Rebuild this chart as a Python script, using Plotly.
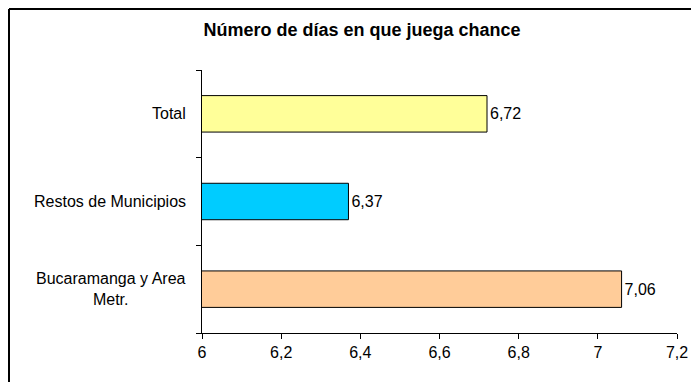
import plotly.graph_objects as go

# data
categories = ["Bucaramanga y Area<br>Metr.", "Restos de Municipios", "Total"]
values = [7.06, 6.37, 6.72]
colors = ["#FFCC99", "#00CCFF", "#FFFF99"]
x_ticks = [6, 6.2, 6.4, 6.6, 6.8, 7, 7.2]

# page body has an 8px margin, so the figure is 16px smaller than the window
OFF = 8
W, H = 699 - 2 * OFF, 390 - 2 * OFF
L, R, T, B = 202 - OFF, W - (677 - OFF), 70 - OFF, H - (333 - OFF)
pw, ph = W - L - R, H - T - B

fig = go.Figure()
fig.add_trace(go.Bar(
    y=categories, x=values, orientation="h",
    marker=dict(color=colors, line=dict(color="black", width=1)),
    text=[f"{v:.2f}".replace(".", ",") for v in values],
    textposition="outside", cliponaxis=False,
    textfont=dict(size=16, color="black"),
    hoverinfo="skip",
))

# category labels (centered multiline like the original)
for c in categories:
    fig.add_annotation(x=(188 - OFF - L) / pw, xref="paper", xanchor="right",
                       y=c, yref="y", text=c, showarrow=False, align="center",
                       font=dict(size=16, color="black"))

# outer chart border: only left and top edges are visible
bx0 = (1 - L) / pw
by1 = 1 + (T - 1) / ph
fig.add_shape(type="line", xref="paper", yref="paper",
              x0=bx0, x1=bx0, y0=-(B + 5) / ph, y1=by1,
              line=dict(color="black", width=2))
fig.add_shape(type="line", xref="paper", yref="paper",
              x0=bx0, x1=1 + (R + 5) / pw, y0=by1, y1=by1,
              line=dict(color="black", width=2))

fig.update_layout(
    width=W, height=H,
    margin=dict(l=L, r=R, t=T, b=B),
    paper_bgcolor="white", plot_bgcolor="white",
    separators=",.",
    font=dict(family="Liberation Sans, Arial, sans-serif", size=16, color="black"),
    title=dict(text="<b>Número de días en que juega chance</b>",
               x=(362 - OFF - L) / pw, xref="paper", xanchor="center",
               y=1 - (30 - OFF) / H, yanchor="middle", font=dict(size=18)),
    bargap=0.584,
    showlegend=False,
    xaxis=dict(range=[6, 7.2], tickvals=x_ticks, ticks="outside", ticklen=5,
               showline=True, linecolor="black", linewidth=1, tickcolor="black",
               showgrid=False, zeroline=False, fixedrange=True, automargin=False,
               tickfont=dict(size=16), ticklabeloverflow="allow"),
    yaxis=dict(showticklabels=False, tickson="boundaries", ticks="outside", ticklen=5,
               showline=True, linecolor="black", linewidth=1, tickcolor="black",
               showgrid=False, fixedrange=True, automargin=False),
)

fig.write_html("out.html")
